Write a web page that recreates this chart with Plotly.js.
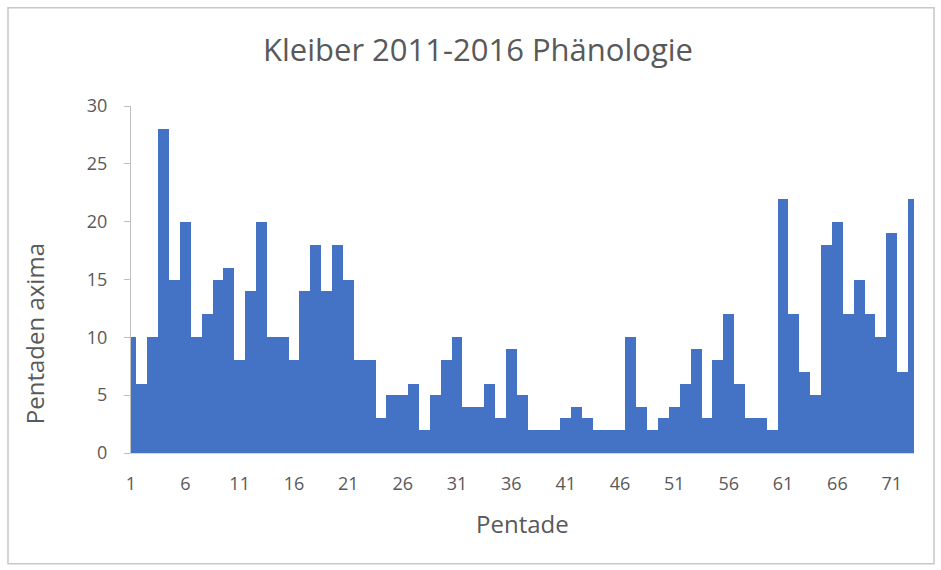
<!DOCTYPE html>
<html>
<head>
<meta charset="utf-8">
<script src="https://cdn.plot.ly/plotly-3.0.1.min.js"></script>
<style>html,body{margin:0;padding:0;background:#fff;}#chart{width:941px;height:570px;}</style>
</head>
<body>
<div id="chart"></div>
<script>
const pentaden = Array.from({length: 73}, (_, i) => i + 1);
const werte = [
  10, 6, 10, 28, 15, 20, 10, 12, 15, 16,
  8, 14, 20, 10, 10, 8, 14, 18, 14, 18,
  15, 8, 8, 3, 5, 5, 6, 2, 5, 8,
  10, 4, 4, 6, 3, 9, 5, 2, 2, 2,
  3, 4, 3, 2, 2, 2, 10, 4, 2, 3,
  4, 6, 9, 3, 8, 12, 6, 3, 3, 2,
  22, 12, 7, 5, 18, 20, 12, 15, 12, 10,
  19, 7, 22
];
const xTicks = [1, 6, 11, 16, 21, 26, 31, 36, 41, 46, 51, 56, 61, 66, 71];
const yTicks = [0, 5, 10, 15, 20, 25, 30];

const L = 131, R = 27, T = 105.5, B = 117, W = 941, H = 570;
const pw = W - L - R, ph = H - T - B;
const px = v => (v - L) / pw, py = v => (H - B - v) / ph;
const FONT = 'Open Sans, sans-serif';

Plotly.newPlot('chart', [{
  type: 'bar',
  x: pentaden,
  y: werte,
  width: 1,
  marker: {color: '#4472C4', line: {width: 0}},
  hoverinfo: 'x+y'
}], {
  width: W, height: H,
  margin: {l: L, r: R, t: T, b: B, pad: 0},
  paper_bgcolor: '#ffffff',
  plot_bgcolor: '#ffffff',
  bargap: 0,
  showlegend: false,
  font: {family: FONT, color: '#595959'},
  title: {
    text: 'Kleiber 2011-2016 Phänologie',
    font: {size: 31, color: '#595959', family: FONT},
    x: 478 / W, xref: 'container', xanchor: 'center',
    y: 1 - 50 / H, yref: 'container', yanchor: 'middle'
  },
  xaxis: {
    range: [1, 73.05],
    tickmode: 'array',
    tickvals: xTicks,
    ticktext: xTicks.map(String),
    ticks: '',
    ticklabelstandoff: 14,
    showgrid: false,
    zeroline: false,
    showline: true,
    linecolor: '#d0d8e8',
    linewidth: 1,
    tickfont: {size: 18, color: '#595959'},
    fixedrange: true
  },
  yaxis: {
    range: [0, 30],
    tickmode: 'array',
    tickvals: yTicks,
    ticktext: yTicks.map(String),
    ticks: 'outside',
    ticklen: 6,
    tickcolor: '#bfbfbf',
    ticklabelstandoff: 13,
    showgrid: false,
    zeroline: false,
    showline: true,
    linecolor: '#bfbfbf',
    linewidth: 1,
    tickfont: {size: 18, color: '#595959'},
    fixedrange: true
  },
  annotations: [
    {text: 'Pentade', xref: 'paper', yref: 'paper', x: px(522), y: py(524),
     xanchor: 'center', yanchor: 'middle', showarrow: false,
     font: {size: 24, color: '#595959', family: FONT}},
    {text: 'Pentaden axima', xref: 'paper', yref: 'paper', x: px(34), y: py(334),
     xanchor: 'center', yanchor: 'middle', textangle: -90, showarrow: false,
     font: {size: 24, color: '#595959', family: FONT}}
  ],
  shapes: [{
    type: 'rect', xref: 'paper', yref: 'paper',
    x0: px(8), x1: px(934), y0: py(7), y1: py(564),
    line: {color: '#c8c8c8', width: 1.5}, fillcolor: 'rgba(0,0,0,0)', layer: 'below'
  }]
}, {displayModeBar: false, staticPlot: true});
</script>
</body>
</html>
